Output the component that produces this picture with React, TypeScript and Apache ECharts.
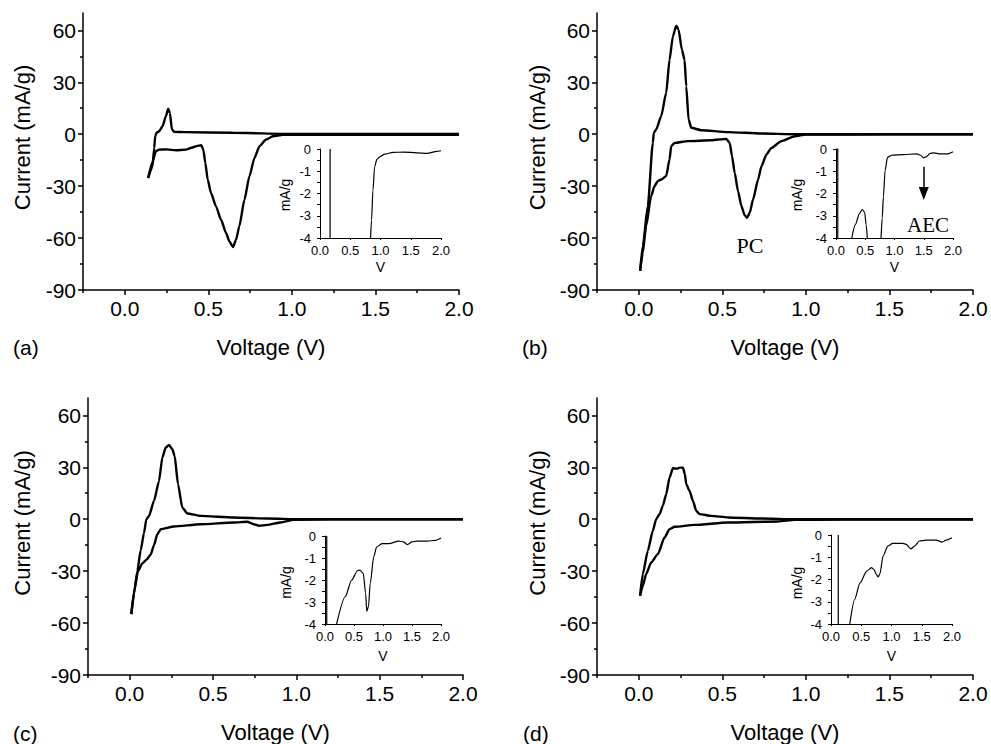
import React, { useEffect, useRef } from "react";
import * as echarts from "echarts";

// ---- tick values ----
const mainXTicks = [0, 0.5, 1.0, 1.5, 2.0];
const mainXMinorTicks = [-0.25, 0.25, 0.75, 1.25, 1.75];
const mainYTicks = [-90, -60, -30, 0, 30, 60];
const mainYMinorTicks = [-75, -45, -15, 15, 45];
const insetXTicks = [0, 0.5, 1.0, 1.5, 2.0];
const insetYLabels = [-4, -3, -2, -1, 0];
const insetYTicks = [-4, -3.5, -3, -2.5, -2, -1.5, -1, -0.5, 0];

// ---- panel (a) main ----
const aCathodic = [[2.0,-0.3],[1.6,-0.3],[1.2,-0.3],[1.0,-0.3],[0.946,-0.3],[0.886,-1.2],[0.846,-3.1],[0.806,-6.9],[0.776,-13.7],[0.746,-24.3],[0.716,-37.8],[0.686,-53],[0.666,-61],[0.648,-65.2],[0.626,-62],[0.606,-57],[0.576,-49.4],[0.546,-41.7],[0.516,-34],[0.496,-26.2],[0.482,-16.6],[0.47,-8.9],[0.458,-6.4],[0.43,-6.9],[0.40,-7.8],[0.366,-8.9],[0.306,-9.3],[0.25,-8.8],[0.206,-8.9],[0.186,-9.8],[0.166,-16],[0.14,-25.3]];
const aAnodic = [[0.14,-25.3],[0.166,-18.5],[0.176,-8],[0.182,-1.2],[0.19,0.8],[0.206,1.7],[0.226,4.6],[0.246,10.4],[0.26,14.7],[0.27,12.3],[0.282,2.7],[0.296,1.4],[0.366,1.2],[0.646,0.8],[1.0,0.1],[2.0,0.1]];
// ---- panel (a) inset ----
const aInsetSpike = [[0.167,0],[0.167,-4]];
const aInsetCurve = [[0.836,-4],[0.852,-3.2],[0.875,-1.85],[0.903,-0.8],[0.94,-0.47],[0.997,-0.33],[1.07,-0.23],[1.21,-0.15],[1.38,-0.14],[1.6,-0.17],[1.77,-0.2],[1.93,-0.11],[2.0,-0.08]];

// ---- panel (b) main ----
const bCathodic = [[2.0,-0.1],[1.5,-0.1],[1.0,-0.2],[0.934,-1.2],[0.854,-4],[0.794,-7.9],[0.764,-11.7],[0.734,-18.5],[0.714,-26.2],[0.684,-37.7],[0.664,-45.4],[0.648,-48.3],[0.634,-46.9],[0.614,-41.5],[0.594,-32.9],[0.574,-22.3],[0.558,-12.7],[0.544,-5],[0.524,-2.7],[0.434,-3.5],[0.294,-4],[0.214,-5],[0.194,-6.9],[0.184,-14.6],[0.164,-24.2],[0.134,-26.2],[0.114,-27.1],[0.094,-30],[0.074,-35.8],[0.044,-53],[0.024,-68.5],[0.008,-79]];
const bAnodic = [[0.008,-79],[0.024,-64.6],[0.054,-41.5],[0.084,-5],[0.09,0.8],[0.104,2.7],[0.134,10.4],[0.164,23.8],[0.184,43],[0.204,56.5],[0.224,62.7],[0.238,60.4],[0.258,48.8],[0.274,43],[0.284,27.7],[0.298,8.5],[0.314,3.7],[0.374,2.3],[0.534,1.2],[0.734,0.4],[0.934,0],[2.0,0]];
// ---- panel (b) inset ----
const bInsetSpike = [[0.03,0.1],[0.03,-4]];
const bInsetHump = [[0.27,-4],[0.33,-3.4],[0.40,-2.9],[0.45,-2.72],[0.49,-2.85],[0.515,-3.4],[0.535,-4]];
const bInsetCurve = [[0.77,-4],[0.79,-3.1],[0.81,-2.15],[0.84,-0.95],[0.88,-0.38],[0.95,-0.28],[1.15,-0.25],[1.38,-0.22],[1.44,-0.27],[1.5,-0.4],[1.54,-0.35],[1.61,-0.2],[1.67,-0.17],[1.78,-0.22],[1.9,-0.22],[2.0,-0.12]];
const aecArrow = [[1.5,-0.8],[1.5,-2.0]];

// ---- panel (c) main ----
const cCathodic = [[2.0,-0.1],[1.2,-0.1],[0.985,-0.4],[0.905,-1.9],[0.825,-3.3],[0.775,-3.8],[0.745,-2.9],[0.705,-1.5],[0.626,-1.9],[0.426,-2.9],[0.266,-4.2],[0.186,-5.8],[0.166,-8.7],[0.146,-15],[0.126,-20.5],[0.1,-23.5],[0.076,-25.5],[0.05,-30],[0.03,-40],[0.01,-54.8]];
const cAnodic = [[0.01,-54.8],[0.026,-43],[0.046,-30],[0.066,-18],[0.086,-8],[0.1,0],[0.116,1.9],[0.146,10.6],[0.176,22],[0.196,35.6],[0.216,41.3],[0.236,42.9],[0.256,40.4],[0.27,36.5],[0.29,20.2],[0.316,6.7],[0.346,3.3],[0.426,1.9],[0.626,1],[0.825,0.4],[1.025,0],[2.0,0]];
// ---- panel (c) inset ----
const cInsetSpike = [[0.03,0],[0.03,-4]];
const cInsetCurve = [[0.2,-4],[0.35,-2.75],[0.46,-2.0],[0.56,-1.58],[0.6,-1.55],[0.66,-1.7],[0.7,-2.6],[0.72,-3.43],[0.75,-3.2],[0.78,-2.15],[0.84,-0.95],[0.89,-0.5],[0.98,-0.35],[1.1,-0.35],[1.27,-0.23],[1.35,-0.27],[1.42,-0.39],[1.5,-0.27],[1.58,-0.23],[1.76,-0.23],[1.9,-0.2],[2.0,-0.09]];

// ---- panel (d) main ----
const dCathodic = [[2.0,-0.2],[1.2,-0.2],[0.934,-0.4],[0.834,-1.3],[0.534,-1.9],[0.334,-3.3],[0.214,-4.4],[0.184,-5.8],[0.154,-10.6],[0.114,-20.2],[0.074,-25],[0.044,-31.7],[0.024,-38.5],[0.008,-44.2]];
const dAnodic = [[0.008,-44.2],[0.024,-31.7],[0.054,-18.3],[0.084,-6.7],[0.104,0],[0.124,2.9],[0.144,7.7],[0.164,14.4],[0.184,24],[0.204,29.4],[0.23,29.2],[0.246,29.8],[0.264,29.8],[0.276,26],[0.284,20.2],[0.304,16.3],[0.324,10.6],[0.344,4.8],[0.364,2.9],[0.434,1.9],[0.534,1],[0.734,0.4],[0.934,0],[2.0,0]];
// ---- panel (d) inset ----
const dInsetSpike = [[0.12,0],[0.12,-4]];
const dInsetCurve = [[0.31,-4],[0.39,-2.9],[0.48,-2.15],[0.59,-1.62],[0.67,-1.47],[0.71,-1.55],[0.75,-1.77],[0.78,-1.88],[0.81,-1.73],[0.86,-0.95],[0.94,-0.5],[1.02,-0.38],[1.19,-0.38],[1.24,-0.42],[1.32,-0.62],[1.38,-0.5],[1.46,-0.27],[1.57,-0.23],[1.74,-0.23],[1.84,-0.32],[1.9,-0.23],[2.0,-0.12]];

const FONT = '"Liberation Sans", Arial, sans-serif';
const SERIF = '"Liberation Serif", "Times New Roman", serif';

const mainGrids = [
  { left: 83, top: 13, width: 376, height: 277 },
  { left: 597, top: 13, width: 376, height: 277 },
  { left: 88, top: 398, width: 375, height: 278 },
  { left: 597, top: 398, width: 376, height: 278 },
];
const insetGrids = [
  { left: 320, top: 149, width: 121, height: 89 },
  { left: 836, top: 149, width: 117, height: 89 },
  { left: 325, top: 536, width: 116, height: 88 },
  { left: 831, top: 535, width: 121, height: 89 },
];
const insetNameGaps = [22, 22, 25, 25];

export default function App() {
  const ref = useRef<HTMLDivElement>(null);
  useEffect(() => {
    if (!ref.current) return;
    const chart = echarts.init(ref.current, undefined, { renderer: "svg" });
    const grid: any[] = [];
    const xAxis: any[] = [];
    const yAxis: any[] = [];
    const series: any[] = [];
    const black = "#000";

    const mainData = [
      [aCathodic, aAnodic],
      [bCathodic, bAnodic],
      [cCathodic, cAnodic],
      [dCathodic, dAnodic],
    ];
    const insetData = [
      [aInsetSpike, aInsetCurve],
      [bInsetSpike, bInsetHump, bInsetCurve],
      [cInsetSpike, cInsetCurve],
      [dInsetSpike, dInsetCurve],
    ];

    for (let p = 0; p < 4; p++) {
      // main grid
      const gi = grid.length;
      grid.push({ ...mainGrids[p], containLabel: false });
      const xi = xAxis.length;
      xAxis.push({
        gridIndex: gi, type: "value", min: -0.25, max: 2.0, position: "bottom",
        name: "Voltage (V)", nameLocation: "middle", nameGap: 46,
        nameTextStyle: { fontSize: 22, color: black, fontFamily: FONT },
        axisLine: { show: true, onZero: false, lineStyle: { color: black, width: 1.5 } },
        axisTick: { show: true, customValues: mainXTicks, length: 5, lineStyle: { color: black, width: 1.5 } },
        axisLabel: { customValues: mainXTicks, formatter: (v: number) => v.toFixed(1), fontSize: 21, color: black, fontFamily: FONT, margin: 8 },
        splitLine: { show: false },
      });
      xAxis.push({
        gridIndex: gi, type: "value", min: -0.25, max: 2.0, position: "bottom",
        axisLine: { show: false, onZero: false },
        axisTick: { show: true, customValues: mainXMinorTicks, length: 3, lineStyle: { color: black, width: 1.5 } },
        axisLabel: { show: false },
        splitLine: { show: false },
      });
      const yi = yAxis.length;
      yAxis.push({
        gridIndex: gi, type: "value", min: -90, max: 70, position: "left",
        axisLine: { show: true, onZero: false, lineStyle: { color: black, width: 1.5 } },
        axisTick: { show: true, customValues: mainYTicks, length: 5, lineStyle: { color: black, width: 1.5 } },
        axisLabel: { customValues: mainYTicks, fontSize: 21, color: black, fontFamily: FONT, margin: 7 },
        splitLine: { show: false },
      });
      yAxis.push({
        gridIndex: gi, type: "value", min: -90, max: 70, position: "left",
        axisLine: { show: false, onZero: false },
        axisTick: { show: true, customValues: mainYMinorTicks, length: 3, lineStyle: { color: black, width: 1.5 } },
        axisLabel: { show: false },
        splitLine: { show: false },
      });
      mainData[p].forEach((d) => {
        series.push({
          type: "line", xAxisIndex: xi, yAxisIndex: yi, data: d,
          showSymbol: false, symbol: "none", smooth: 0.2, smoothMonotone: "x",
          lineStyle: { color: black, width: 2.4 }, silent: true,
        });
      });

      // inset grid
      const ig = grid.length;
      grid.push({ ...insetGrids[p], containLabel: false });
      const ixi = xAxis.length;
      xAxis.push({
        gridIndex: ig, type: "value", min: 0, max: 2.0, position: "bottom",
        name: "V", nameLocation: "middle", nameGap: insetNameGaps[p],
        nameTextStyle: { fontSize: 14, color: black, fontFamily: FONT },
        axisLine: { show: true, onZero: false, lineStyle: { color: black, width: 1 } },
        axisTick: { show: true, customValues: insetXTicks, length: 2, lineStyle: { color: black, width: 1 } },
        axisLabel: { customValues: insetXTicks, formatter: (v: number) => v.toFixed(1), fontSize: 13, color: black, fontFamily: FONT, margin: 6 },
        splitLine: { show: false },
      });
      const iyi = yAxis.length;
      yAxis.push({
        gridIndex: ig, type: "value", min: -4, max: 0, position: "left",
        axisLine: { show: true, onZero: false, lineStyle: { color: black, width: 1 } },
        axisTick: { show: true, customValues: insetYTicks, length: 3, lineStyle: { color: black, width: 1 } },
        axisLabel: { customValues: insetYLabels, fontSize: 13, color: black, fontFamily: FONT, margin: 9 },
        splitLine: { show: false },
      });
      insetData[p].forEach((d, k) => {
        const s: any = {
          type: "line", xAxisIndex: ixi, yAxisIndex: iyi, data: d,
          showSymbol: false, symbol: "none", smooth: d.length > 2 ? 0.25 : false, smoothMonotone: "x",
          lineStyle: { color: black, width: 1.2 }, silent: true,
        };
        if (p === 1 && k === 2) {
          s.markLine = {
            silent: true, symbol: ["none", "triangle"], symbolSize: [10, 13],
            lineStyle: { color: black, width: 1.5, type: "solid" },
            label: { show: false },
            data: [[{ coord: aecArrow[0] }, { coord: aecArrow[1] }]],
          };
        }
        series.push(s);
      });
    }

    const yTitle = (x: number, y: number, text: string, size: number) => ({
      type: "text", x, y, rotation: Math.PI / 2,
      style: { text, font: `${size}px ${FONT}`, fill: black, align: "center", verticalAlign: "middle", textAlign: "center", textVerticalAlign: "middle" },
    });
    const label = (x: number, y: number, text: string, font: string, align = "left") => ({
      type: "text", x, y,
      style: { text, font, fill: black, align, verticalAlign: "middle", textAlign: align, textVerticalAlign: "middle" },
    });

    const graphic = [
      yTitle(22, 137.5, "Current (mA/g)", 22),
      yTitle(537.5, 137.5, "Current (mA/g)", 22),
      yTitle(22, 523, "Current (mA/g)", 22),
      yTitle(537.5, 523, "Current (mA/g)", 22),
      yTitle(285, 195, "mA/g", 14),
      yTitle(797, 195, "mA/g", 14),
      yTitle(286, 582.5, "mA/g", 14),
      yTitle(797, 583, "mA/g", 14),
      label(13, 347, "(a)", `21px ${FONT}`),
      label(522, 347, "(b)", `21px ${FONT}`),
      label(13, 733, "(c)", `21px ${FONT}`),
      label(523, 733, "(d)", `21px ${FONT}`),
      label(750, 245, "PC", `22px ${SERIF}`, "center"),
      label(928, 225, "AEC", `21px ${SERIF}`, "center"),
    ];

    chart.setOption({
      animation: false,
      backgroundColor: "#fff",
      grid, xAxis, yAxis, series, graphic,
    });
    return () => chart.dispose();
  }, []);
  return <div ref={ref} style={{ position: "fixed", left: 0, top: 0, width: 991, height: 744, background: "#fff" }} />;
}
